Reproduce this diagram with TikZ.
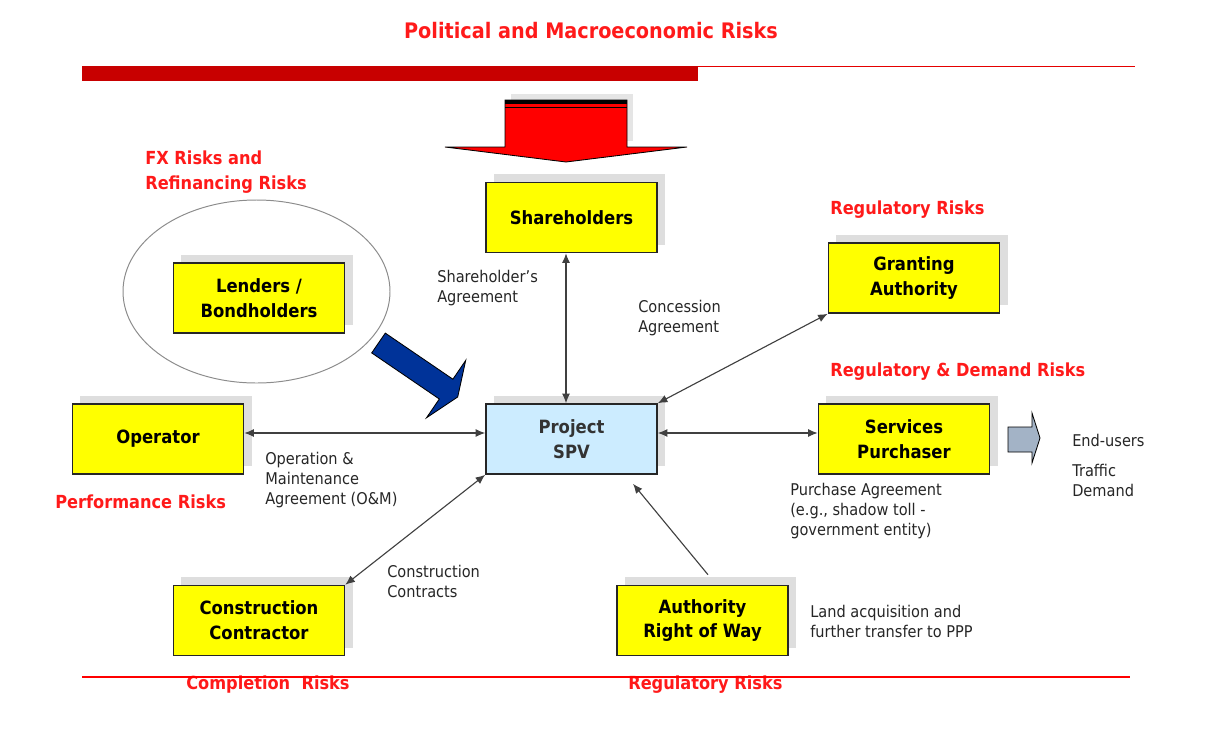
\documentclass[tikz,border=0pt]{standalone}
\usepackage{fontspec}
\setmainfont{DejaVu Sans}[FakeStretch=0.9]
\usetikzlibrary{arrows.meta,shadows,calc}
\definecolor{boxyellow}{HTML}{FFFF00}
\definecolor{spvblue}{HTML}{CCECFF}
\definecolor{riskred}{HTML}{FF1A1A}
\definecolor{bardark}{HTML}{C80000}
\definecolor{arrowblue}{HTML}{003399}
\definecolor{arrowgray}{HTML}{A3B3C6}
\definecolor{linegray}{HTML}{404040}
\tikzset{
  entity/.style={draw=black!85, line width=1.1pt, fill=boxyellow, minimum width=4.275cm, minimum height=1.75cm,
    inner sep=0pt, align=center, font=\fontsize{13}{17.7}\selectfont\bfseries,
    drop shadow={shadow xshift=0.2cm, shadow yshift=0.2cm, fill=black!13, opacity=1}},
  risk/.style={text=riskred, anchor=west, inner sep=0pt, align=left, font=\fontsize{12.8}{17.7}\selectfont\bfseries},
  note/.style={text=black!85, anchor=west, inner sep=0pt, align=left, font=\fontsize{11.5}{14.2}\selectfont},
  link/.style={draw=linegray, line width=0.8pt, {Latex[length=2.4mm,width=2mm]}-{Latex[length=2.4mm,width=2mm]}},
  onelink/.style={draw=linegray, line width=0.8pt, -{Latex[length=2.4mm,width=2mm]}}
}
\begin{document}
\begin{tikzpicture}[x=0.025cm,y=-0.025cm]
\useasboundingbox (0,0) rectangle (1212,731);
% title and banner
\node[text=riskred, inner sep=0pt, font=\fontsize{15.2}{18}\selectfont\bfseries] (title) at (591,31) {Political and Macroeconomic Risks};
\fill[bardark] (82,66) rectangle (698,81);
\draw[red!90!black, line width=1.2pt] (698,66.5) -- (1135,66.5);
% big red arrow
\fill[black!10] (511,94) rectangle (633,141);
\filldraw[fill=red, draw=black, line width=0.6pt] (505,100) -- (627,100) -- (627,147) -- (687,147) -- (566,162) -- (445,147) -- (505,147) -- cycle;
\fill[black] (505,100) rectangle (627,103.5);
\draw[black, line width=1.3pt] (505,107.5) -- (627,107.5);
% ellipse around lenders
\draw[black!45, line width=0.7pt] (256.5,291.5) ellipse [x radius=133.5, y radius=91.5];
% boxes
\node[entity] (sh) at (571.5,217.5) {Shareholders};
\node[entity] (lb) at (259,298) {Lenders /\\Bondholders};
\node[entity] (ga) at (914,278) {Granting\\Authority};
\node[entity] (op) at (158,439) {Operator};
\node[entity, fill=spvblue, font=\fontsize{13}{17.7}\selectfont\bfseries\color{black!80}] (spv) at (571.5,439) {Project\\SPV};
\node[entity] (sp) at (904,439) {Services\\Purchaser};
\node[entity] (cc) at (259,620.5) {Construction\\Contractor};
\node[entity] (aw) at (702.5,620.5) {Authority\\Right of Way};
% blue arrow
\filldraw[fill=arrowblue, draw=black, line width=0.6pt] (385.3,333.1) -- (452.9,379.2) -- (465.7,360.4) -- (457.7,397) -- (426.5,417.8) -- (439.3,399) -- (371.7,352.9) -- cycle;
% gray arrow to end-users
\filldraw[fill=arrowgray, draw=black, line width=0.6pt] (1008,427) -- (1032,427) -- (1032,413) -- (1040,438) -- (1032,463) -- (1032,452) -- (1008,452) -- cycle;
% connectors
\draw[link] ($(sh.south)+(-5.5,0)$) -- ($(spv.north)+(-5.5,0)$);
\draw[link] (spv.north east) -- (ga.south west);
\draw[link] ($(op.east)+(0,-6)$) -- ($(spv.west)+(0,-6)$);
\draw[link] ($(spv.east)+(0,-6)$) -- ($(sp.west)+(0,-6)$);
\draw[link] (spv.south west) -- (cc.north east);
\draw[onelink] ($(aw.north)+(5.5,-10)$) -- ($(spv.south)+(61.5,9)$);
% notes
\node[note] (n1) at (437,288.5) {Shareholder’s\\Agreement};
\node[note] (n2) at (638,318.5) {Concession\\Agreement};
\node[note] (n3) at (265,480) {Operation \&\\Maintenance\\Agreement (O\&M)};
\node[note] (n4) at (790,511) {Purchase Agreement\\(e.g., shadow toll -\\government entity)};
\node[note] (n5) at (387,581) {Construction\\Contracts};
\node[note] (n6) at (810,621) {Land acquisition and\\further transfer to PPP};
\node[note] (n7) at (1072,440) {End-users};
\node[note] (n8) at (1072,480) {Traffic\\Demand};
% risk labels
\node[risk] (r1) at (145,172.5) {FX Risks and\\Refinancing Risks};
\node[risk] (r2) at (830,210) {Regulatory Risks};
\node[risk] (r3) at (830,372) {Regulatory \& Demand Risks};
\node[risk] (r4) at (55,502) {Performance Risks};
\node[risk] (r5) at (186,685) {Completion\ \ Risks};
\node[risk] (r6) at (628,685) {Regulatory Risks};
% bottom line
\draw[red, line width=1.2pt] (82,677) -- (1130,677);
\end{tikzpicture}
\end{document}
